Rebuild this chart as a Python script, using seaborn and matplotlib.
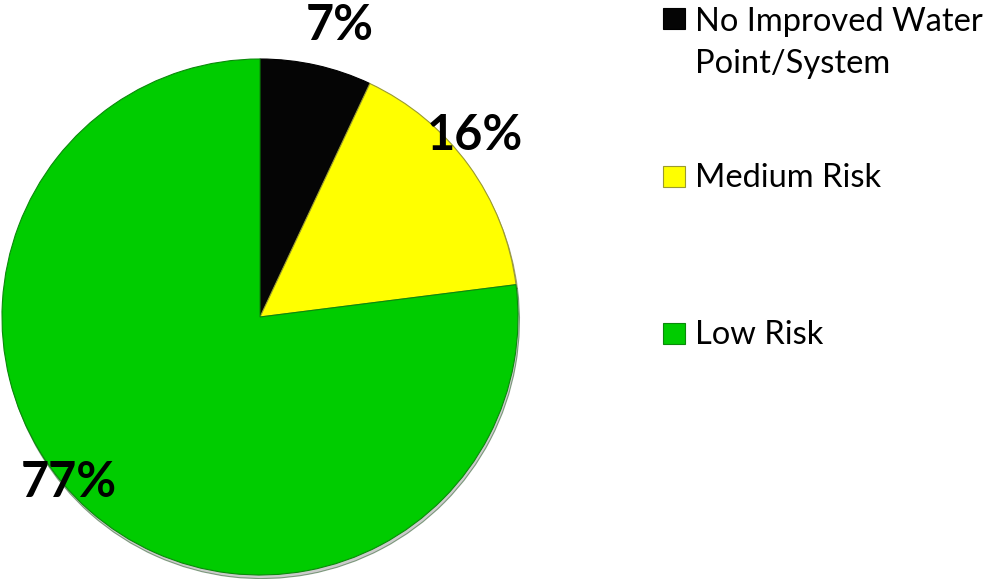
import numpy as np
import matplotlib
matplotlib.use("Agg")
import matplotlib.pyplot as plt
from matplotlib.patches import Rectangle
import seaborn as sns

# Share of water points by risk category (percent)
categories = ["No Improved Water\nPoint/System", "Medium Risk", "Low Risk"]
shares = [7, 16, 77]
slice_colors = ["#050505", "#FFFF00", "#00CC00"]
edge_colors = ["#000000", "#9a9a30", "#0a8a0a"]

sns.set_theme(style="white")
plt.rcParams["font.family"] = ["Lato", "DejaVu Sans"]

W, H = 997, 579
fig = plt.figure(figsize=(W / 100, H / 100), dpi=100)
fig.patch.set_facecolor("white")

# Pie occupies a square box: centre at (260, 317) px, radius 258 px
cx, cy, r = 260, 317, 258
ax = fig.add_axes([(cx - r) / W, (H - cy - r) / H, 2 * r / W, 2 * r / H])

wedges, _ = ax.pie(
    shares,
    colors=slice_colors,
    startangle=90,
    counterclock=False,
    radius=1.0,
    shadow={"ox": 0.004, "oy": -0.010, "facecolor": "0.55", "alpha": 0.45},
    wedgeprops={"linewidth": 0.8},
)
for w, ec in zip(wedges, edge_colors):
    w.set_edgecolor(ec)
ax.set_xlim(-1, 1)
ax.set_ylim(-1, 1)
ax.axis("off")

# Percentage labels, placed along each slice's mid angle
label_radius = [1.17, 1.09, 0.98]
label_shift = [-2.7, 4.2, -7.6]
for w, v, rad, sh in zip(wedges, shares, label_radius, label_shift):
    ang = np.deg2rad((w.theta1 + w.theta2) / 2 + sh)
    ax.text(rad * np.cos(ang), rad * np.sin(ang), f"{v}%",
            ha="center", va="center", fontsize=35, fontweight="bold",
            color="black", clip_on=False)

# Legend: square swatch + label, one row per category
legend_baselines = [29, 187, 344]
line_gap = 44
sw_x, sw_w, sw_h = 663, 22, 21
for lab, col, ec, yb in zip(categories, slice_colors, edge_colors, legend_baselines):
    fig.add_artist(Rectangle((sw_x / W, (H - yb) / H), sw_w / W, sw_h / H,
                             transform=fig.transFigure, facecolor=col,
                             edgecolor=ec, linewidth=0.8))
    last_base = yb + line_gap * lab.count("\n")
    fig.text(695 / W, (H - last_base) / H, lab, ha="left", va="baseline",
             fontsize=23.5, color="black", linespacing=1.5)

fig.savefig("out.png", dpi=100, facecolor="white")
